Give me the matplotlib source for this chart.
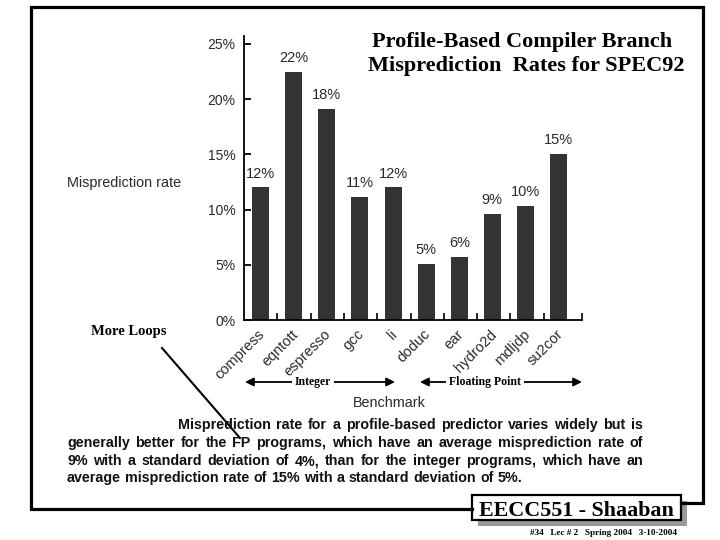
import numpy as np
import matplotlib
matplotlib.use('Agg')
import matplotlib.pyplot as plt
from matplotlib.patches import Rectangle
from matplotlib.lines import Line2D
from matplotlib.transforms import offset_copy

# ---- data ----
benchmarks = ['compress', 'eqntott', 'espresso', 'gcc', 'li',
              'doduc', 'ear', 'hydro2d', 'mdljdp', 'su2cor']
rates = [12.0, 22.5, 19.1, 11.1, 12.0, 5.1, 5.7, 9.6, 10.3, 15.0]
rate_labels = ['12%', '22%', '18%', '11%', '12%', '5%', '6%', '9%', '10%', '15%']
yticks = [0, 5, 10, 15, 20, 25]
ytick_labels = ['0%', '5%', '10%', '15%', '20%', '25%']

title_lines = ['Profile-Based Compiler Branch', 'Misprediction  Rates for SPEC92']
caption = ['Misprediction rate for a profile-based predictor varies widely but is',
           'generally better for the FP programs, which have an average misprediction rate of',
           '9% with a standard deviation of 4%, than for the integer programs, which have an',
           'average misprediction rate of 15% with a standard deviation of 5%.']

SANS = 'Liberation Sans'
SERIF = 'Liberation Serif'
W, H = 720, 540

def fx(px):
    return px / W

def fy(py):
    return 1 - py / H

fig = plt.figure(figsize=(7.2, 5.4), dpi=100)
fig.patch.set_facecolor('white')

# slide border (broken at bottom by footer box)
bx = [472, 31, 31, 703, 703, 681]
by = [509, 509, 7, 7, 503, 503]
fig.add_artist(Line2D([fx(v) for v in bx], [fy(v) for v in by], color='black', lw=2.3,
                      solid_joinstyle='miter'))

# ---- bar chart ----
ax = fig.add_axes([fx(244), fy(320), fx(582) - fx(244), fy(36) - fy(320)])
x = np.arange(len(benchmarks)) * 0.994
ax.bar(x, rates, width=0.51, color='#333333')
ax.set_xlim(-0.5, 9.65)
ax.set_ylim(0, 25.72)
for s in ['top', 'right']:
    ax.spines[s].set_visible(False)
for s in ['left', 'bottom']:
    ax.spines[s].set_linewidth(1.3)

ax.set_yticks(yticks)
ax.set_yticklabels(ytick_labels, fontfamily=SANS, fontsize=10, color='#2a2a2a')
ax.tick_params(axis='y', direction='in', length=5, width=1.3, pad=6)
ax.set_xticks([])
ax.set_xticks(list(np.arange(0.5, 9.0, 1.0)) + [9.65], minor=True)
ax.tick_params(axis='x', which='minor', direction='in', length=5, width=1.2)

lbl_tr = offset_copy(ax.transData, fig=fig, x=2, y=-12, units='dots')
for xi, name in zip(x, benchmarks):
    ax.text(xi, 0, name, transform=lbl_tr, rotation=45, rotation_mode='anchor',
            ha='right', va='center', fontfamily=SANS, fontsize=10.5, color='#2a2a2a')

for xi, r, t in zip(x, rates, rate_labels):
    ax.annotate(t, (xi, r), xytext=(0, 5), textcoords='offset points',
                ha='center', va='bottom', fontfamily=SANS, fontsize=10.5, color='#2a2a2a')

# ---- annotations around the chart ----
fig.text(fx(124.5), fy(183), 'Misprediction rate', ha='center', va='center',
         fontfamily=SANS, fontsize=10.4, color='#2a2a2a')
fig.text(fx(389), fy(403), 'Benchmark', ha='center', va='center',
         fontfamily=SANS, fontsize=10.4, color='#2a2a2a')

for (x0, x1, xt, label) in [(245, 395, 313, 'Integer'), (420, 582, 485, 'Floating Point')]:
    fig.add_artist(matplotlib.patches.FancyArrowPatch(
        (fx(x0), fy(382)), (fx(x1), fy(382)), transform=fig.transFigure,
        arrowstyle='<|-|>,head_length=5,head_width=2.5', color='black', lw=1.3,
        shrinkA=0, shrinkB=0))
    fig.text(fx(xt), fy(382), label, ha='center', va='center', fontfamily=SERIF,
             fontweight='bold', fontsize=8.5,
             bbox=dict(facecolor='white', edgecolor='none', pad=2))

for i, line in enumerate(title_lines):
    fig.text(fx([522, 526][i]), fy([47, 71][i]), line, ha='center', va='baseline',
             fontfamily=SERIF, fontweight='bold', fontsize=16)

fig.text(fx(129), fy(331), 'More Loops', ha='center', va='center',
         fontfamily=SERIF, fontweight='bold', fontsize=10.5)
fig.add_artist(Line2D([fx(162), fx(240)], [fy(348), fy(438)], color='black', lw=1.5))

# caption, justified word by word
renderer = fig.canvas.get_renderer()
cap_y = [425, 443, 461, 478]
cap_x0 = [178, 67, 67, 67]
right_edge = 643
for i, line in enumerate(caption):
    words = line.split(' ')
    texts = [fig.text(0, 0, w, fontfamily=SANS, fontweight='bold', fontsize=10.3,
                      color='#111111', va='center') for w in words]
    widths = [t.get_window_extent(renderer).width for t in texts]
    if i < len(caption) - 1:
        gap = (right_edge - cap_x0[i] - sum(widths)) / (len(words) - 1)
    else:
        gap = texts[0].get_window_extent(renderer).height * 0.3
    pos = cap_x0[i]
    for t, wd in zip(texts, widths):
        t.set_position((fx(pos), fy(cap_y[i])))
        pos += wd + gap

# footer box with shadow
fig.add_artist(Rectangle((fx(478), fy(526)), fx(209), fy(0) - fy(25), transform=fig.transFigure,
                         facecolor='#9a9a9a', edgecolor='none'))
fig.add_artist(Rectangle((fx(472), fy(520)), fx(209), fy(0) - fy(25), transform=fig.transFigure,
                         facecolor='white', edgecolor='black', lw=1.6))
fig.text(fx(576), fy(516), 'EECC551 - Shaaban', ha='center', va='baseline',
         fontfamily=SERIF, fontweight='bold', fontsize=15.8)
fig.text(fx(604), fy(533), '#34   Lec # 2   Spring 2004   3-10-2004', ha='center', va='center',
         fontfamily=SERIF, fontweight='bold', fontsize=6.6)

fig.savefig('out.png', dpi=100)
